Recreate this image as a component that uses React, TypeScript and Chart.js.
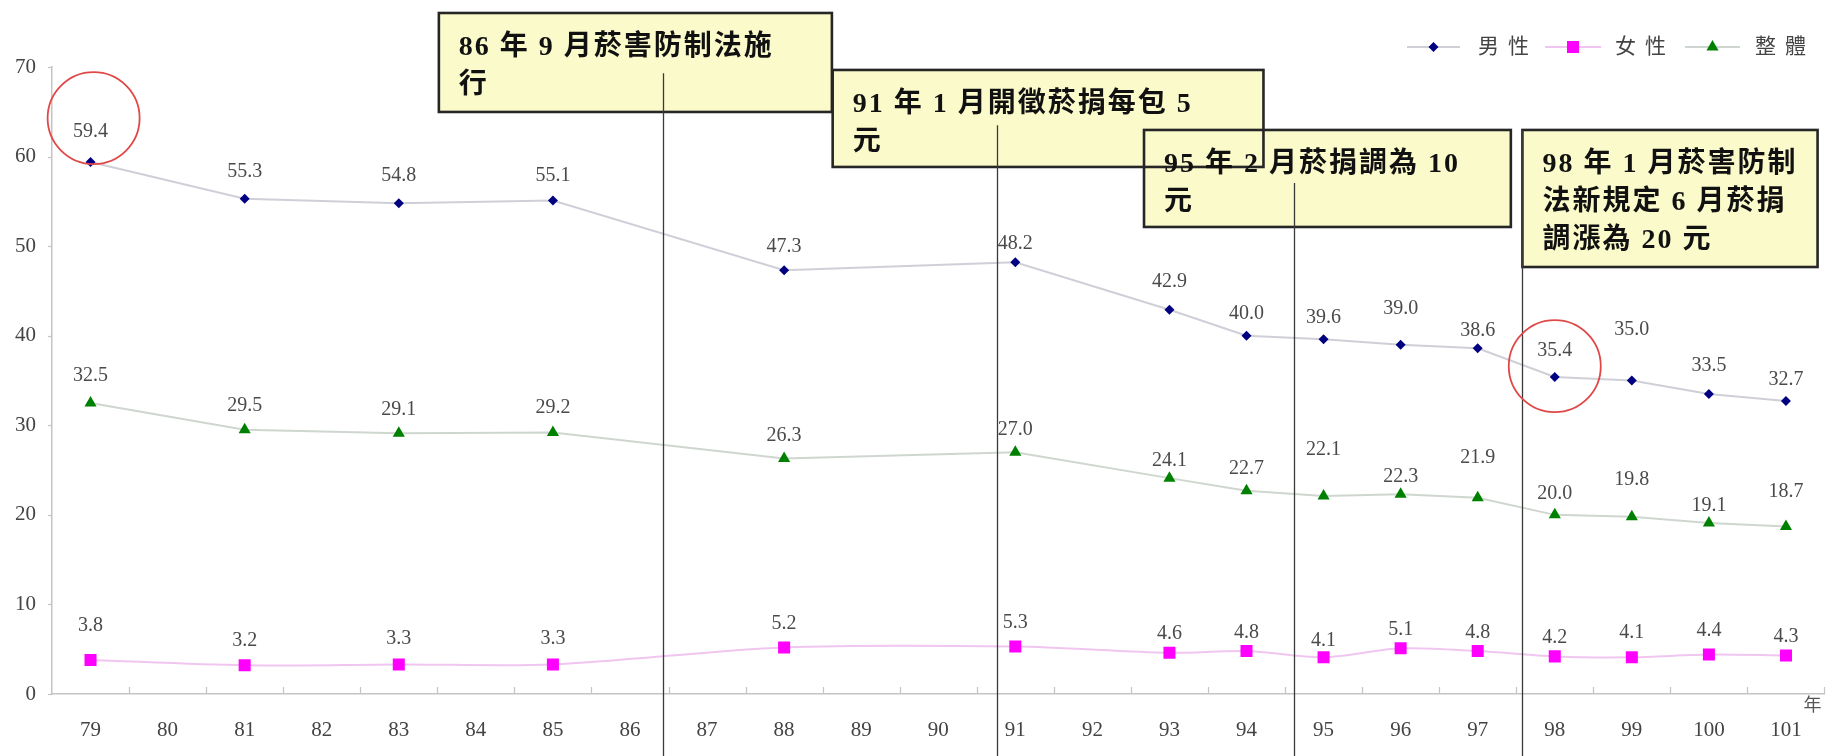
import React, { useEffect, useRef } from "react";
import { Chart, registerables } from "chart.js";

Chart.register(...registerables);

// x axis: every year from 79 to 101 (ROC calendar)
const yearTicks = [
  "79", "80", "81", "82", "83", "84", "85", "86", "87", "88", "89", "90",
  "91", "92", "93", "94", "95", "96", "97", "98", "99", "100", "101",
];

// years in which the survey was taken
const surveyYears = ["79", "81", "83", "85", "88", "91", "93", "94", "95", "96", "97", "98", "99", "100", "101"];

// smoking rate (%)
const maleRate = [59.4, 55.3, 54.8, 55.1, 47.3, 48.2, 42.9, 40.0, 39.6, 39.0, 38.6, 35.4, 35.0, 33.5, 32.7];
const femaleRate = [3.8, 3.2, 3.3, 3.3, 5.2, 5.3, 4.6, 4.8, 4.1, 5.1, 4.8, 4.2, 4.1, 4.4, 4.3];
const overallRate = [32.5, 29.5, 29.1, 29.2, 26.3, 27.0, 24.1, 22.7, 22.1, 22.3, 21.9, 20.0, 19.8, 19.1, 18.7];

// how far (px) each value label sits above its point
const maleLabelLift = [30, 27, 27, 25, 24, 19, 28, 22, 22, 36, 18, 26, 51, 28, 21];
const femaleLabelLift = [34, 25, 26, 26, 24, 24, 19, 18, 17, 19, 18, 19, 25, 24, 19];
const overallLabelLift = [27, 24, 24, 25, 23, 22, 17, 22, 46, 18, 40, 21, 37, 17, 35];

const yTickValues = [0, 10, 20, 30, 40, 50, 60, 70];

// policy milestones: box extent in category index / y value, marker line position
const eventNotes = [
  { lines: ["86 年 9 月菸害防制法施", "行"], at: 7.43, from: 69.3, x0: 4.52, x1: 9.62, top: 76.03, bottom: 64.98 },
  { lines: ["91 年 1 月開徵菸捐每包 5", "元"], at: 11.76, from: 63.5, x0: 9.63, x1: 15.22, top: 69.67, bottom: 58.84 },
  { lines: ["95 年 2 月菸捐調為 10", "元"], at: 15.61, from: 57.05, x0: 13.67, x1: 18.43, top: 62.97, bottom: 52.14 },
  { lines: ["98 年 1 月菸害防制", "法新規定 6 月菸捐", "調漲為 20 元"], at: 18.58, from: 62.97, x0: 18.58, x1: 22.41, top: 62.97, bottom: 47.67 },
];

// highlighted points (category index, y value of circle centre)
const highlights = [
  { at: 0.04, value: 64.3 },
  { at: 19.0, value: 36.6 },
];

const SERIF = "'Liberation Serif', 'Times New Roman', 'Noto Sans CJK TC', serif";
const CJK = "'Liberation Serif', 'Noto Sans CJK TC', serif";

function spread(values: number[]): (number | null)[] {
  return yearTicks.map((y) => {
    const i = surveyYears.indexOf(y);
    return i >= 0 ? values[i] : null;
  });
}

const seriesStyle = [
  { name: "男性", values: maleRate, lift: maleLabelLift, line: "#cfcfd8", mark: "#000080", shape: "rectRot", radius: 5 },
  { name: "女性", values: femaleRate, lift: femaleLabelLift, line: "#f0c6f0", mark: "#ff00ff", shape: "rect", radius: 8.5 },
  { name: "整體", values: overallRate, lift: overallLabelLift, line: "#cfd6cf", mark: "#008000", shape: "triangle", radius: 7 },
];

function drawMarker(ctx: CanvasRenderingContext2D, shape: string, x: number, y: number, r: number, color: string) {
  ctx.save();
  ctx.fillStyle = color;
  ctx.beginPath();
  if (shape === "rectRot") {
    ctx.moveTo(x - r, y);
    ctx.lineTo(x, y - r);
    ctx.lineTo(x + r, y);
    ctx.lineTo(x, y + r);
  } else if (shape === "rect") {
    const s = r * Math.SQRT1_2;
    ctx.rect(x - s, y - s, 2 * s, 2 * s);
  } else {
    ctx.moveTo(x, y - r);
    ctx.lineTo(x + Math.sin((2 * Math.PI) / 3) * r, y - Math.cos((2 * Math.PI) / 3) * r);
    ctx.lineTo(x + Math.sin((4 * Math.PI) / 3) * r, y - Math.cos((4 * Math.PI) / 3) * r);
  }
  ctx.closePath();
  ctx.fill();
  ctx.restore();
}

const valueLabels = {
  id: "valueLabels",
  afterDatasetsDraw(chart: any) {
    const ctx: CanvasRenderingContext2D = chart.ctx;
    ctx.save();
    ctx.font = `20px ${SERIF}`;
    ctx.fillStyle = "#4a4a4a";
    ctx.textAlign = "center";
    ctx.textBaseline = "middle";
    seriesStyle.forEach((s, di) => {
      const meta = chart.getDatasetMeta(di);
      surveyYears.forEach((y, k) => {
        const idx = yearTicks.indexOf(y);
        const pt = meta.data[idx];
        if (!pt) return;
        ctx.fillText(s.values[k].toFixed(1), pt.x, pt.y - s.lift[k]);
      });
    });
    ctx.restore();
  },
};

const decorations = {
  id: "decorations",
  afterDraw(chart: any) {
    const ctx: CanvasRenderingContext2D = chart.ctx;
    const xs = chart.scales.x;
    const ys = chart.scales.y;
    const area = chart.chartArea;
    const step = xs.getPixelForValue(1) - xs.getPixelForValue(0);
    const px = (i: number) => xs.getPixelForValue(0) + i * step;
    const py = (v: number) => ys.getPixelForValue(v);

    ctx.save();
    // inward tick marks between categories
    ctx.strokeStyle = "#c4c4c4";
    ctx.lineWidth = 1.2;
    for (let i = 1; i <= yearTicks.length; i++) {
      const x = Math.round(px(i - 0.5)) + 0.5;
      ctx.beginPath();
      ctx.moveTo(x, area.bottom);
      ctx.lineTo(x, area.bottom - 7);
      ctx.stroke();
    }
    // small outward ticks on the value axis
    yTickValues.forEach((v) => {
      const y = Math.round(py(v)) + 0.5;
      ctx.beginPath();
      ctx.moveTo(area.left - 4, y);
      ctx.lineTo(area.left, y);
      ctx.stroke();
    });

    // axis unit
    ctx.font = `18px ${CJK}`;
    ctx.fillStyle = "#555";
    ctx.textAlign = "center";
    ctx.textBaseline = "middle";
    ctx.fillText("年", area.right - 12, area.bottom + 12);

    // annotation boxes: fills, then borders, then text
    eventNotes.forEach((n) => {
      ctx.fillStyle = "#fbfacb";
      ctx.fillRect(px(n.x0), py(n.top), px(n.x1) - px(n.x0), py(n.bottom) - py(n.top));
    });
    eventNotes.forEach((n) => {
      ctx.strokeStyle = "#262626";
      ctx.lineWidth = 2.6;
      ctx.strokeRect(px(n.x0), py(n.top), px(n.x1) - px(n.x0), py(n.bottom) - py(n.top));
    });
    ctx.font = `bold 28px ${CJK}`;
    ctx.fillStyle = "#111";
    ctx.textAlign = "left";
    ctx.textBaseline = "middle";
    (ctx as any).letterSpacing = "2px";
    eventNotes.forEach((n) => {
      n.lines.forEach((line, li) => {
        ctx.fillText(line, px(n.x0) + 20, py(n.top) + 35 + li * 38);
      });
    });
    (ctx as any).letterSpacing = "0px";

    // milestone marker lines
    ctx.strokeStyle = "#3a3a3a";
    ctx.lineWidth = 1.3;
    eventNotes.forEach((n) => {
      const x = Math.round(px(n.at)) + 0.5;
      ctx.beginPath();
      ctx.moveTo(x, py(n.from));
      ctx.lineTo(x, chart.height);
      ctx.stroke();
    });

    // highlight circles
    ctx.strokeStyle = "#e04848";
    ctx.lineWidth = 1.8;
    highlights.forEach((h) => {
      ctx.beginPath();
      ctx.ellipse(px(h.at), py(h.value), 46, 46, 0, 0, Math.PI * 2);
      ctx.stroke();
    });

    // legend
    const legendY = 47;
    const legendItems = [
      { seg: [1407, 1460], text: 1478 },
      { seg: [1545, 1601], text: 1615 },
      { seg: [1685, 1740], text: 1755 },
    ];
    ctx.font = `21px ${CJK}`;
    ctx.textAlign = "left";
    ctx.textBaseline = "middle";
    (ctx as any).letterSpacing = "9px";
    legendItems.forEach((it, i) => {
      const s = seriesStyle[i];
      ctx.strokeStyle = s.line;
      ctx.lineWidth = 2;
      ctx.beginPath();
      ctx.moveTo(it.seg[0], legendY);
      ctx.lineTo(it.seg[1], legendY);
      ctx.stroke();
      drawMarker(ctx, s.shape, (it.seg[0] + it.seg[1]) / 2, legendY, s.radius, s.mark);
      ctx.fillStyle = "#444";
      ctx.fillText(s.name, it.text, legendY);
    });
    (ctx as any).letterSpacing = "0px";
    ctx.restore();
  },
};

export default function App() {
  const canvasRef = useRef<HTMLCanvasElement | null>(null);

  useEffect(() => {
    document.body.style.margin = "0";
    const canvas = canvasRef.current;
    if (!canvas) return;
    const chart = new Chart(canvas, {
      type: "line",
      data: {
        labels: yearTicks,
        datasets: seriesStyle.map((s) => ({
          label: s.name,
          data: spread(s.values),
          borderColor: s.line,
          borderWidth: 2,
          pointStyle: s.shape as any,
          pointRadius: s.radius,
          pointBackgroundColor: s.mark,
          pointBorderColor: s.mark,
          pointBorderWidth: 0,
          spanGaps: true,
          tension: s.name === "女性" ? 0.3 : 0,
          fill: false,
        })),
      },
      options: {
        animation: false,
        responsive: false,
        devicePixelRatio: 1,
        layout: { padding: { top: 67, right: 8, bottom: 0, left: 0 } },
        plugins: {
          legend: { display: false },
          tooltip: { enabled: false },
          title: { display: false },
        },
        scales: {
          x: {
            type: "category",
            offset: true,
            grid: { display: false, drawTicks: false },
            border: { display: true, color: "#c4c4c4", width: 1.5 },
            ticks: {
              color: "#444",
              font: { family: SERIF, size: 21 },
              padding: 24,
              maxRotation: 0,
              autoSkip: false,
            },
            afterFit: (scale: any) => {
              scale.height = 62;
            },
          },
          y: {
            min: 0,
            max: 70,
            grid: { display: false, drawTicks: false },
            border: { display: true, color: "#c4c4c4", width: 1.5 },
            ticks: {
              stepSize: 10,
              color: "#444",
              font: { family: SERIF, size: 21 },
              padding: 16,
            },
            afterFit: (scale: any) => {
              scale.width = 52;
            },
          },
        },
      },
      plugins: [valueLabels, decorations],
    });
    return () => chart.destroy();
  }, []);

  return <canvas ref={canvasRef} width={1833} height={756} style={{ display: "block" }} />;
}
